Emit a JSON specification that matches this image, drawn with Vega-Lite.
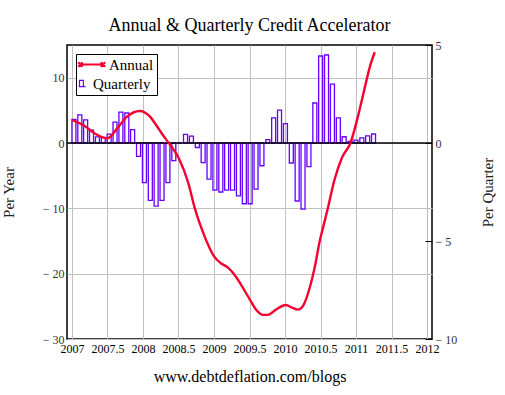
{
  "$schema": "https://vega.github.io/schema/vega-lite/v6.json",
  "width": 365,
  "height": 294,
  "autosize": "none",
  "padding": {"left": 67, "top": 45, "right": 73, "bottom": 56},
  "background": "white",
  "title": {"text": "Annual & Quarterly Credit Accelerator", "font": "Liberation Serif", "fontSize": 18, "fontWeight": "normal", "color": "black", "offset": 4},
  "config": {
    "font": "Liberation Serif",
    "view": {"stroke": "black", "strokeWidth": 1.5},
    "axis": {"labelFont": "Liberation Serif", "titleFont": "Liberation Serif", "titleFontWeight": "normal", "gridColor": "#c0c0c0", "gridWidth": 1, "gridOpacity": 1, "domain": false},
    "legend": {"labelFont": "Liberation Serif"}
  },
  "datasets": {
    "quarterly": [
      {"t": 2007.027, "q": 1.2}, {"t": 2007.110, "q": 1.43}, {"t": 2007.192, "q": 1.18}, {"t": 2007.275, "q": 0.65},
      {"t": 2007.358, "q": 0.31}, {"t": 2007.441, "q": 0.28}, {"t": 2007.523, "q": 0.45}, {"t": 2007.606, "q": 1.07},
      {"t": 2007.689, "q": 1.58}, {"t": 2007.772, "q": 1.53}, {"t": 2007.854, "q": 0.68}, {"t": 2007.937, "q": -0.68},
      {"t": 2008.020, "q": -2.02}, {"t": 2008.103, "q": -2.93}, {"t": 2008.185, "q": -3.22}, {"t": 2008.268, "q": -2.93},
      {"t": 2008.351, "q": -2.02}, {"t": 2008.434, "q": -0.9}, {"t": 2008.516, "q": 0.0}, {"t": 2008.599, "q": 0.44},
      {"t": 2008.682, "q": 0.35}, {"t": 2008.765, "q": -0.23}, {"t": 2008.847, "q": -1.0}, {"t": 2008.930, "q": -1.84},
      {"t": 2009.013, "q": -2.40}, {"t": 2009.096, "q": -2.50}, {"t": 2009.178, "q": -2.40}, {"t": 2009.261, "q": -2.40},
      {"t": 2009.344, "q": -2.70}, {"t": 2009.427, "q": -3.1}, {"t": 2009.509, "q": -3.1}, {"t": 2009.592, "q": -2.35},
      {"t": 2009.675, "q": -1.16}, {"t": 2009.758, "q": 0.17}, {"t": 2009.840, "q": 1.28}, {"t": 2009.923, "q": 1.68},
      {"t": 2010.006, "q": 0.99}, {"t": 2010.089, "q": -1.02}, {"t": 2010.171, "q": -2.96}, {"t": 2010.254, "q": -3.37},
      {"t": 2010.337, "q": -1.21}, {"t": 2010.420, "q": 2.04}, {"t": 2010.502, "q": 4.44}, {"t": 2010.585, "q": 4.49},
      {"t": 2010.668, "q": 3.0}, {"t": 2010.751, "q": 1.28}, {"t": 2010.833, "q": 0.32}, {"t": 2010.916, "q": 0.08},
      {"t": 2010.999, "q": 0.15}, {"t": 2011.082, "q": 0.26}, {"t": 2011.164, "q": 0.36}, {"t": 2011.247, "q": 0.46}
    ],
    "annual": [
      {"t": 2007.004, "a": 3.5}, {"t": 2007.178, "a": 2.6}, {"t": 2007.315, "a": 1.5}, {"t": 2007.497, "a": 0.7},
      {"t": 2007.634, "a": 2.2}, {"t": 2007.771, "a": 4.0}, {"t": 2007.955, "a": 4.9}, {"t": 2008.092, "a": 4.1},
      {"t": 2008.182, "a": 2.8}, {"t": 2008.274, "a": 1.3}, {"t": 2008.356, "a": 0.1}, {"t": 2008.503, "a": -2.3},
      {"t": 2008.640, "a": -6.2}, {"t": 2008.730, "a": -10.0}, {"t": 2008.822, "a": -13.0}, {"t": 2008.890, "a": -14.9},
      {"t": 2009.004, "a": -17.4}, {"t": 2009.096, "a": -18.4}, {"t": 2009.188, "a": -19.0}, {"t": 2009.278, "a": -20.0},
      {"t": 2009.393, "a": -21.9}, {"t": 2009.507, "a": -24.0}, {"t": 2009.599, "a": -25.6}, {"t": 2009.689, "a": -26.3},
      {"t": 2009.758, "a": -26.3}, {"t": 2009.873, "a": -25.5}, {"t": 2010.010, "a": -24.8}, {"t": 2010.100, "a": -25.2},
      {"t": 2010.182, "a": -25.5}, {"t": 2010.260, "a": -24.8}, {"t": 2010.352, "a": -22.0}, {"t": 2010.421, "a": -18.9},
      {"t": 2010.489, "a": -15.0}, {"t": 2010.558, "a": -12.0}, {"t": 2010.603, "a": -10.0}, {"t": 2010.695, "a": -5.7},
      {"t": 2010.808, "a": -2.1}, {"t": 2010.922, "a": 0.0}, {"t": 2011.014, "a": 3.5}, {"t": 2011.105, "a": 7.6},
      {"t": 2011.196, "a": 11.7}, {"t": 2011.264, "a": 13.9}
    ],
    "zero": [{"z": 0}]
  },
  "layer": [
    {
      "data": {"name": "quarterly"},
      "mark": {"type": "bar", "filled": false, "strokeWidth": 1.3, "size": 4},
      "encoding": {
        "x": {"field": "t", "type": "quantitative", "scale": {"domain": [2007, 2012], "nice": false, "zero": false},
          "axis": {"values": [2007, 2007.5, 2008, 2008.5, 2009, 2009.5, 2010, 2010.5, 2011, 2011.5, 2012], "labelExpr": "datum.value + ''", "labelFont": "Liberation Serif", "labelFontSize": 12, "labelColor": "black", "ticks": false, "labelPadding": 4, "labelFlush": false, "labelOverlap": false, "grid": true, "title": "www.debtdeflation.com/blogs", "titleFont": "Liberation Serif", "titleFontSize": 16, "titleColor": "black", "titlePadding": 14}},
        "y": {"field": "q", "type": "quantitative", "scale": {"domain": [-10, 5], "nice": false},
          "axis": {"orient": "right", "values": [-10, -5, 0, 5], "grid": false, "ticks": true, "tickSize": -7, "tickColor": "black", "labelPadding": 10, "labelFont": "Liberation Serif", "labelFontSize": 12, "labelColor": "#333333", "labelExpr": "datum.value < 0 ? '\u2212 ' + abs(datum.value) : datum.value + ''", "title": "Per Quarter", "titleAngle": 270, "titleFont": "Liberation Serif", "titleFontSize": 15, "titleColor": "#202020", "titlePadding": 39}},
        "color": {"datum": "Quarterly", "type": "nominal",
          "scale": {"domain": ["Annual", "Quarterly"], "range": ["#f5002f", "#6600ff"]},
          "legend": {
            "title": null, "orient": "top-left", "offset": 9, "padding": 3,
            "fillColor": "white", "strokeColor": "black",
            "symbolSize": 36, "labelFont": "Liberation Serif", "labelFontSize": 15, "labelColor": "black", "labelOffset": 15, "rowPadding": 3,
            "labelExpr": "datum.label + '   '",
            "encode": {
              "symbols": {"update": {
                "shape": {"signal": "datum.value === 'Quarterly' ? 'M-2.62,1.01L-0.31,1.01M-2.33,1.01L-2.33,-1.01L-1.03,-1.01L-1.03,1.01' : 'M-2.02,0L5.49,0M-2.74,-0.72L-1.3,0.72M-2.74,0.72L-1.3,-0.72M4.77,-0.72L6.21,0.72M4.77,0.72L6.21,-0.72'"},
                "strokeWidth": {"signal": "datum.value === 'Quarterly' ? 1.2 : 2.2"},
                "fill": {"value": "transparent"}
              }},
              "labels": {"update": {"dx": {"signal": "datum.value === 'Quarterly' ? -16 : 0"}}}
            }
          }}
      }
    },
    {
      "data": {"name": "zero"},
      "mark": {"type": "rule", "color": "black", "strokeWidth": 1.5},
      "encoding": {
        "y": {"field": "z", "type": "quantitative", "scale": {"domain": [-30, 15], "nice": false}, "axis": null}
      }
    },
    {
      "data": {"name": "annual"},
      "mark": {"type": "line", "strokeWidth": 2.4, "interpolate": "monotone"},
      "encoding": {
        "x": {"field": "t", "type": "quantitative", "scale": {"domain": [2007, 2012], "nice": false, "zero": false},
          "axis": {"values": [2007, 2007.5, 2008, 2008.5, 2009, 2009.5, 2010, 2010.5, 2011, 2011.5, 2012], "labelExpr": "datum.value + ''", "labelFont": "Liberation Serif", "labelFontSize": 12, "labelColor": "black", "ticks": false, "labelPadding": 4, "labelFlush": false, "labelOverlap": false, "grid": true, "title": "www.debtdeflation.com/blogs", "titleFont": "Liberation Serif", "titleFontSize": 16, "titleColor": "black", "titlePadding": 14}},
        "y": {"field": "a", "type": "quantitative", "scale": {"domain": [-30, 15], "nice": false},
          "axis": {"orient": "left", "values": [-30, -20, -10, 0, 10], "grid": true, "ticks": false, "labelPadding": 3, "labelFont": "Liberation Serif", "labelFontSize": 12, "labelColor": "#333333", "labelExpr": "datum.value < 0 ? '\u2212 ' + abs(datum.value) : datum.value + ''", "title": "Per Year", "titleFont": "Liberation Serif", "titleFontSize": 15, "titleColor": "#202020", "titlePadding": 26}},
        "color": {"datum": "Annual", "type": "nominal",
          "legend": {
            "title": null, "orient": "top-left", "offset": 9, "padding": 3,
            "fillColor": "white", "strokeColor": "black",
            "symbolSize": 36, "labelFont": "Liberation Serif", "labelFontSize": 15, "labelColor": "black", "labelOffset": 15, "rowPadding": 3,
            "labelExpr": "datum.label + '   '",
            "encode": {
              "symbols": {"update": {
                "shape": {"signal": "datum.value === 'Quarterly' ? 'M-2.62,1.01L-0.31,1.01M-2.33,1.01L-2.33,-1.01L-1.03,-1.01L-1.03,1.01' : 'M-2.02,0L5.49,0M-2.74,-0.72L-1.3,0.72M-2.74,0.72L-1.3,-0.72M4.77,-0.72L6.21,0.72M4.77,0.72L6.21,-0.72'"},
                "strokeWidth": {"signal": "datum.value === 'Quarterly' ? 1.2 : 2.2"},
                "fill": {"value": "transparent"}
              }},
              "labels": {"update": {"dx": {"signal": "datum.value === 'Quarterly' ? -16 : 0"}}}
            }
          }}
      }
    }
  ],
  "resolve": {"scale": {"y": "independent"}}
}
